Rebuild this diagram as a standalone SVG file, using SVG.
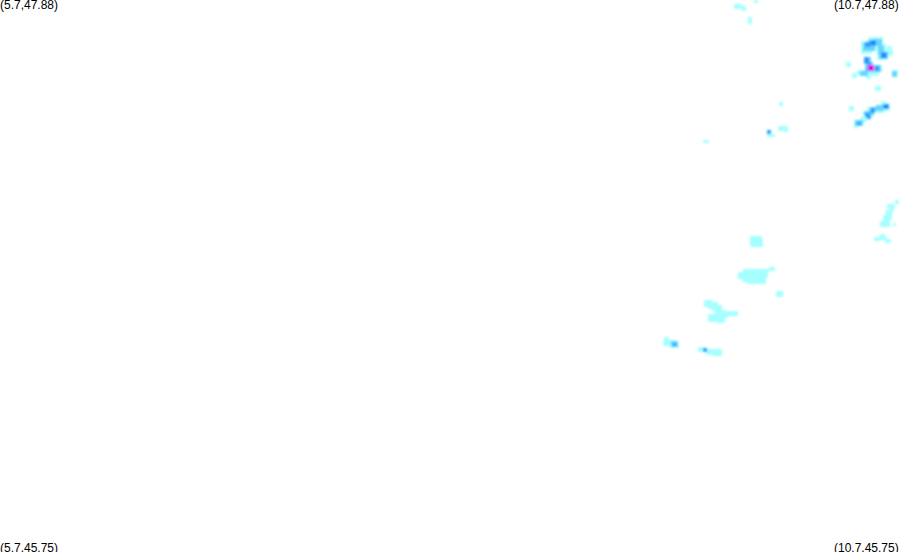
<svg xmlns="http://www.w3.org/2000/svg" width="900" height="552" viewBox="0 0 900 552">
<style>
text{font-family:"Liberation Sans",Arial,sans-serif;font-size:12px;fill:#000}
.c{fill:#a6ffff}.l{fill:#66d6ff}.b{fill:#2ea0ff}.d{fill:#1e78e6}.m{fill:#e600e6}
</style>
<defs><filter id="s" x="-5%" y="-5%" width="110%" height="110%"><feGaussianBlur stdDeviation="0.8"/></filter></defs>
<rect width="900" height="552" fill="#fff"/>
<g id="radar" filter="url(#s)">
<path class="c" d="M734 4h8v2h4v5h-4v-2h-8zM754 0h4v3h-4zM748 17h4v7h-4z"/>
<path class="c" d="M861 41h7v-4h15v7h3v5h4v6h-4v5h-9v-9h-5v3h-11zM887 46h5v5h-5zM885 50h8v6h-8zM846 62h5v5h-5zM857 70h9v-4h16v6h-3v4h-8v3h-5v-4h-9zM852 73h5v5h-5zM892 70h6v6h-6zM875 86h6v5h-6z"/>
<path class="l" d="M863 43h11v-4h8v7h-7v5h-12zM878 46h6v8h-6zM879 52h9v7h-9zM864 57h7v7h-7zM867 62h6v4h-6zM865 65h16v7h-16zM860 71h8v5h-8zM892 71h5v6h-5z"/>
<path class="b" d="M865 42h5v5h-5zM869 40h7v6h-7zM881 52h6v6h-6zM864 57h5v7h-5zM867 62h4v4h-4zM867 66h6v5h-6zM875 66h4v5h-4z"/>
<path class="d" d="M872 41h3v3h-3zM866 59h2v2h-2zM882 54h3v3h-3z"/>
<rect class="m" x="868" y="65" width="6" height="6"/>
<path class="c" d="M877 88h4v3h-4zM849 106h5v5h-5zM881 101h5v4h-5zM883 103h7v8h-7zM854 120h6v-3h3v-5h4v-5h9v-2h9v8h-11v4h-4v3h-4v3h-3v3h-5v2h-4z"/>
<path class="l" d="M864 111h6v-4h6v-2h7v6h-9v4h-3v3h-5v-3h-2zM855 120h8v6h-8z"/>
<path class="b" d="M883 104h6v5h-6zM865 113h5v4h-5zM870 108h5v5h-5zM857 122h4v3h-4zM867 115h4v4h-4z"/>
<path class="d" d="M885 105h3v3h-3z"/>
<path class="c" d="M779 102h4v4h-4zM778 126h10v5h-10zM784 127h4v5h-4zM767 134h8v3h-8zM703 140h6v3h-6z"/>
<rect class="b" x="767" y="130" width="4" height="4"/>
<path class="c" d="M895 200h4v4h-4zM887 204h8v4h-8zM885 210h4v-3h5v5h-2v8h-2v7h-10v-6h3v-6h3zM893 223h3v3h-3zM880 234h5v3h2v3h-6v1h-7v-4h6zM885 239h6v4h-6z"/>
<path class="c" d="M750 236h12v3h1v8h-12v-1h-1zM738 272h5v-3h26v3h-1v6h-2v6h-19v-2h-5v-3h-4zM769 267h6v4h-6zM776 291h7v6h-7z"/>
<path class="c" d="M704 300h8v2h6v3h4v5h3v1h13v5h-10v2h-3v5h-8v-1h-9v-8h7v-3h-3v-2h-4v-2h-4z"/>
<path class="c" d="M664 337h5v3h5v3h5v5h-9v-2h-7zM698 347h8v2h16v7h-9v-1h-7v-3h-8z"/>
<path class="l" d="M671 341h7v6h-7z"/>
<path class="b" d="M703 348h4v4h-4zM673 343h3v3h-3z"/>
</g>
<g id="labels">
<text x="0" y="9">(5.7,47.88)</text>
<text x="834" y="9">(10.7,47.88)</text>
<text x="0" y="552">(5.7,45.75)</text>
<text x="834" y="552">(10.7,45.75)</text>
</g>
</svg>
